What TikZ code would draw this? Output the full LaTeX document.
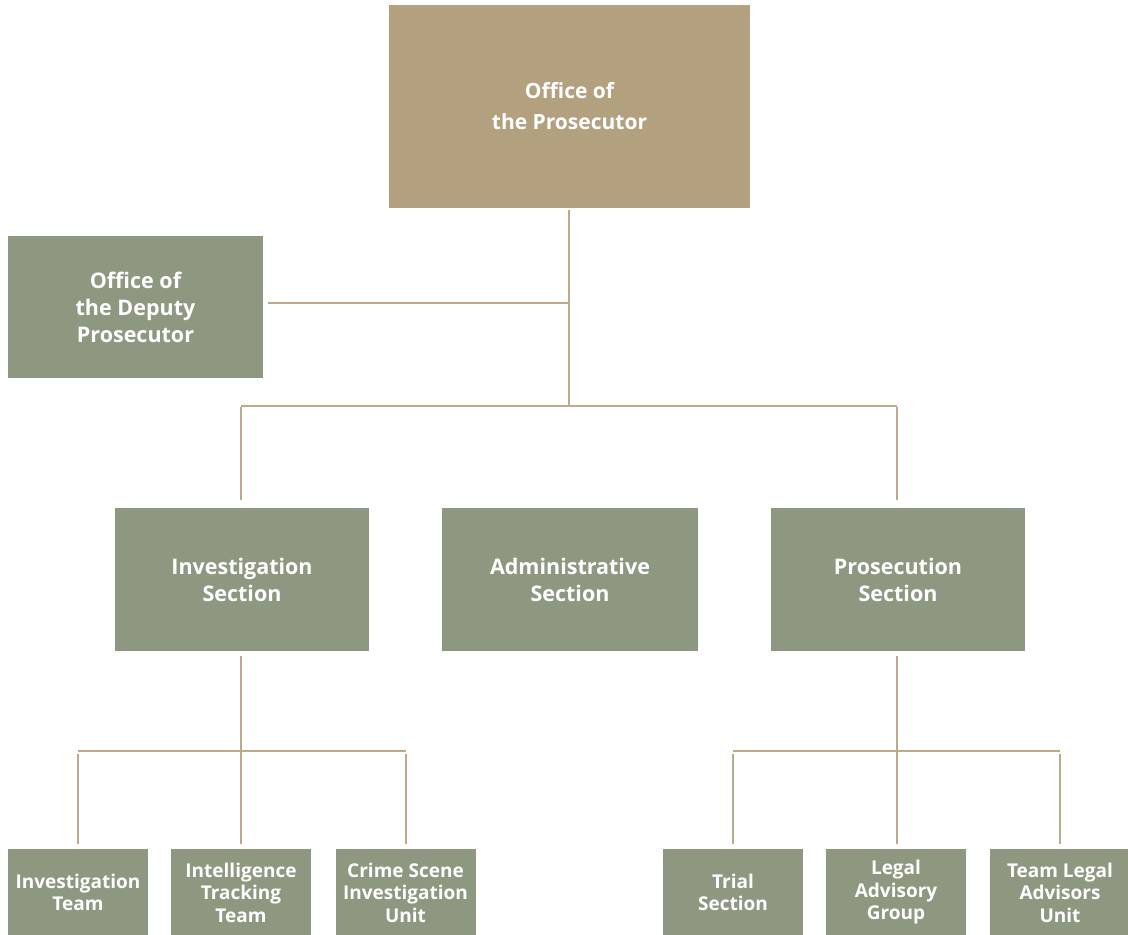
\documentclass[tikz,border=0pt]{standalone}
\usepackage{fontspec}
\setmainfont{Open Sans}
\begin{document}
\begin{tikzpicture}[x=1pt,y=-1pt,
  every node/.style={inner sep=0pt,outer sep=0pt,align=center,text=white,font=\bfseries},
  chief/.style={fill=tanbox,minimum width=361,minimum height=203,font=\bfseries\fontsize{21}{31}\selectfont},
  unitbox/.style={fill=greenbox,minimum width=255,minimum height=143,font=\bfseries\fontsize{21.5}{27}\selectfont},
  smallbox/.style={fill=greenbox,minimum width=140,minimum height=87,font=\bfseries\fontsize{19}{22.5}\selectfont},
  link/.style={draw=linetan,line width=2pt}]
\definecolor{tanbox}{HTML}{B3A07E}
\definecolor{greenbox}{HTML}{8E9880}
\definecolor{linetan}{HTML}{BCAA8A}
\useasboundingbox (0,0) rectangle (1128,935);
\clip (0,0) rectangle (1128,935);

% boxes
\node[chief]    (otp)    at (569.5,106.5) {Office of\\the Prosecutor};
\node[unitbox, minimum height=142] (deputy) at (135.5,307) {Office of\\the Deputy\\Prosecutor};
\node[unitbox, minimum width=254] (inv)   at (242,579.5) {Investigation\\Section};
\node[unitbox, minimum width=256] (adm)   at (570,579.5) {Administrative\\Section};
\node[unitbox, minimum width=254] (pros)  at (898,579.5) {Prosecution\\Section};

\node[smallbox] (invteam) at (78,892.5)  {Investigation\\Team};
\node[smallbox] (intel)   at (241,892.5) {Intelligence\\Tracking\\Team};
\node[smallbox] (crime)   at (405.5,892.5) {Crime Scene\\Investigation\\Unit};
\node[smallbox] (trial)   at (733,892.5) {Trial\\Section};
\node[smallbox] (legal)   at (896,892.5) {Legal\\Advisory\\Group};
\node[smallbox] (team)    at (1060,892.5) {Team Legal\\Advisors\\Unit};

% junction points
\coordinate (hub)  at (569,303);
\coordinate (bar)  at (569,406);
\coordinate (barL) at (241,406);
\coordinate (barR) at (897,406);
\coordinate (invbar) at (241,751);
\coordinate (prosbar) at (897,751);

% top spine
\draw[link] ([yshift=-2]otp.south -| hub) -- (bar);
\draw[link] ([xshift=5]deputy.east |- hub) -- (hub);
\draw[link] (barL) -- (barR);
\draw[link] ([yshift=-1]barL) -- ([yshift=8]inv.north -| barL);
\draw[link] ([yshift=-1]barR) -- ([yshift=8]pros.north -| barR);

% investigation branch
\draw[link] ([yshift=-5]inv.south -| invbar) -- ([yshift=5]intel.north -| invbar);
\draw[link] (invteam.north |- invbar) -- (crime.north |- invbar);
\draw[link] ([yshift=-3]invteam.north |- invbar) -- ([yshift=5]invteam.north);
\draw[link] ([yshift=-3]crime.north |- invbar) -- ([yshift=5]crime.north);

% prosecution branch
\draw[link] ([yshift=-5]pros.south -| prosbar) -- ([yshift=5]legal.north -| prosbar);
\draw[link] (trial.north |- prosbar) -- (team.north |- prosbar);
\draw[link] ([yshift=-3]trial.north |- prosbar) -- ([yshift=5]trial.north);
\draw[link] ([yshift=-3]team.north |- prosbar) -- ([yshift=5]team.north);
\end{tikzpicture}
\end{document}
